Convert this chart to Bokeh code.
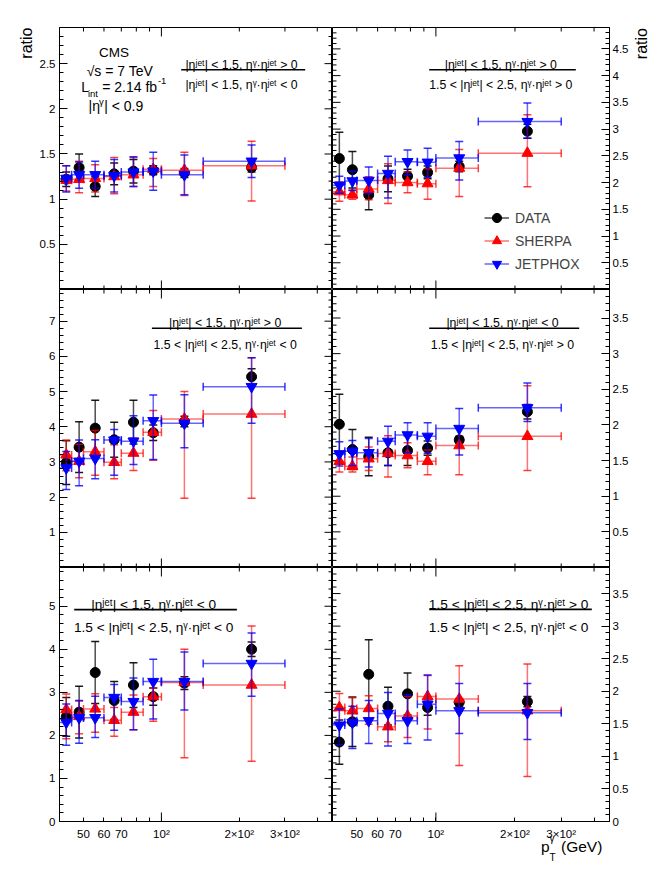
import math
from bokeh.plotting import figure
from bokeh.models import (Range1d, LinearAxis, LogAxis, FixedTicker, SingleIntervalTicker,
                          NumeralTickFormatter, Label, Legend, LegendItem, ColumnDataSource,
                          Title, Div)
from bokeh.layouts import row, column
from bokeh.embed import file_html
from bokeh.resources import INLINE

FONT = "Liberation Sans"

# ---------------- data ----------------
bin_lo = [40, 45, 50, 60, 70, 85, 100, 145]
bin_hi = [45, 50, 60, 70, 85, 100, 145, 300]
pt = [42.9, 48.1, 55.5, 65.7, 78.0, 93.0, 122.7, 223.0]

x_tick_values = [50, 60, 70, 100, 200, 300]
x_tick_labels = ["50", "60", "70", "10²", "2×10²", "3×10²"]
x_minor_values = [40, 80, 90, 400]
x_decade_values = [100]

tl_data = [1.22, 1.35, 1.14, 1.28, 1.31, 1.32, 1.29, 1.35]
tl_data_err = [0.08, 0.15, 0.11, 0.12, 0.13, 0.05, 0.05, 0.05]
tl_sherpa = [1.21, 1.22, 1.23, 1.25, 1.27, 1.33, 1.32, 1.37]
tl_sherpa_up = [0.16, 0.20, 0.15, 0.21, 0.19, 0.12, 0.20, 0.27]
tl_sherpa_dn = [0.12, 0.15, 0.15, 0.19, 0.13, 0.19, 0.28, 0.39]
tl_jetphox = [1.23, 1.27, 1.27, 1.26, 1.30, 1.31, 1.27, 1.42]
tl_jetphox_up = [0.14, 0.14, 0.15, 0.18, 0.17, 0.21, 0.22, 0.18]
tl_jetphox_dn = [0.15, 0.15, 0.15, 0.18, 0.16, 0.21, 0.22, 0.18]

tr_data = [2.45, 2.24, 1.77, 2.07, 2.12, 2.19, 2.30, 2.96]
tr_data_err = [0.49, 0.34, 0.28, 0.24, 0.13, 0.12, 0.10, 0.13]
tr_sherpa = [1.83, 1.77, 1.88, 2.04, 2.00, 1.98, 2.27, 2.55]
tr_sherpa_up = [0.18, 0.09, 0.23, 0.31, 0.20, 0.28, 0.35, 0.72]
tr_sherpa_dn = [0.18, 0.08, 0.20, 0.43, 0.19, 0.29, 0.53, 0.63]
tr_jetphox = [1.95, 2.03, 2.04, 2.17, 2.39, 2.38, 2.46, 3.14]
tr_jetphox_up = [0.17, 0.18, 0.25, 0.32, 0.22, 0.26, 0.31, 0.35]
tr_jetphox_dn = [0.15, 0.18, 0.25, 0.46, 0.25, 0.28, 0.41, 0.31]

ml_data = [2.98, 3.42, 3.96, 3.63, 4.13, 3.83, 4.15, 5.42]
ml_data_err = [0.62, 0.72, 0.79, 0.50, 0.62, 0.22, 0.15, 0.23]
ml_sherpa = [3.20, 3.02, 3.29, 2.99, 3.25, 3.84, 4.22, 4.36]
ml_sherpa_up = [0.42, 0.48, 0.60, 0.50, 0.43, 0.62, 0.78, 1.60]
ml_sherpa_dn = [0.45, 0.47, 0.67, 0.47, 0.49, 0.79, 2.25, 2.39]
ml_jetphox = [2.83, 3.02, 3.10, 3.62, 3.59, 4.17, 4.10, 5.14]
ml_jetphox_up = [0.47, 0.60, 0.53, 0.30, 0.72, 0.73, 0.81, 0.82]
ml_jetphox_dn = [0.61, 0.70, 0.58, 1.00, 0.66, 1.10, 0.70, 1.04]

mr_data = [2.01, 1.655, 1.557, 1.61, 1.64, 1.675, 1.79, 2.185]
mr_data_err = [0.42, 0.28, 0.27, 0.18, 0.21, 0.10, 0.05, 0.10]
mr_sherpa = [1.49, 1.42, 1.525, 1.60, 1.57, 1.49, 1.71, 1.84]
mr_sherpa_up = [0.13, 0.13, 0.165, 0.25, 0.18, 0.16, 0.26, 0.71]
mr_sherpa_dn = [0.15, 0.08, 0.165, 0.33, 0.17, 0.19, 0.41, 0.48]
mr_jetphox = [1.595, 1.63, 1.61, 1.77, 1.86, 1.84, 1.95, 2.24]
mr_jetphox_up = [0.17, 0.15, 0.20, 0.21, 0.17, 0.19, 0.28, 0.35]
mr_jetphox_dn = [0.17, 0.20, 0.20, 0.34, 0.25, 0.24, 0.37, 0.19]

bl_data = [2.43, 2.54, 3.46, 2.81, 3.17, 2.90, 3.215, 4.00]
bl_data_err = [0.45, 0.60, 0.72, 0.44, 0.52, 0.20, 0.15, 0.17]
bl_sherpa = [2.60, 2.44, 2.615, 2.35, 2.54, 2.90, 3.23, 3.17]
bl_sherpa_up = [0.36, 0.36, 0.35, 0.30, 0.40, 0.20, 0.77, 1.37]
bl_sherpa_dn = [0.68, 0.40, 0.54, 0.37, 0.41, 0.57, 1.75, 1.77]
bl_jetphox = [2.30, 2.41, 2.41, 2.88, 2.785, 3.25, 3.25, 3.67]
bl_jetphox_up = [0.43, 0.40, 0.50, 0.30, 0.55, 0.52, 0.69, 0.71]
bl_jetphox_dn = [0.53, 0.59, 0.46, 0.76, 0.655, 0.87, 0.66, 0.76]

br_data = [1.22, 1.53, 2.26, 1.77, 1.96, 1.75, 1.83, 1.84]
br_data_err = [0.34, 0.38, 0.53, 0.29, 0.32, 0.12, 0.06, 0.08]
br_sherpa = [1.75, 1.70, 1.735, 1.455, 1.62, 1.92, 1.88, 1.70]
br_sherpa_up = [0.215, 0.20, 0.195, 0.25, 0.30, 0.32, 0.51, 0.72]
br_sherpa_dn = [0.25, 0.20, 0.24, 0.23, 0.33, 0.50, 1.02, 1.01]
br_jetphox = [1.48, 1.52, 1.547, 1.66, 1.547, 1.80, 1.70, 1.67]
br_jetphox_up = [0.25, 0.25, 0.31, 0.32, 0.40, 0.45, 0.42, 0.45]
br_jetphox_dn = [0.30, 0.40, 0.35, 0.50, 0.35, 0.55, 0.35, 0.41]

NUM_A = "|ηʲᵉᵗ| < 1.5,  ηᵞ·ηʲᵉᵗ > 0"
NUM_B = "|ηʲᵉᵗ| < 1.5,  ηᵞ·ηʲᵉᵗ < 0"
DEN_A = "1.5 < |ηʲᵉᵗ| < 2.5,  ηᵞ·ηʲᵉᵗ > 0"
DEN_B = "1.5 < |ηʲᵉᵗ| < 2.5,  ηᵞ·ηʲᵉᵗ < 0"

# ---------------- geometry ----------------
X0, X1 = 40.4, 458.0
FW = [273, 277]
FH = {"top": 262, "mid": 278, "bot": 255}
BORDER_L, BORDER_R, BORDER_T, BORDER_B = 59, 55, 27, 20
FRAME = {}


def style_axis(ax, major_in, minor_in, standoff):
    ax.major_tick_in = major_in
    ax.major_tick_out = 0
    ax.minor_tick_in = minor_in
    ax.minor_tick_out = 0
    ax.axis_line_color = "black"
    ax.axis_line_width = 1
    ax.major_tick_line_color = "black"
    ax.minor_tick_line_color = "black"
    ax.major_label_text_font = FONT
    ax.major_label_text_font_size = "11.5px"
    ax.major_label_text_color = "black"
    ax.major_label_standoff = standoff


def y_ticks(y_end, interval):
    n = int(round(y_end / interval * 5))
    major = [round(k * interval / 5, 6) for k in range(n + 1) if k % 5 == 0]
    minor = [round(k * interval / 5, 6) for k in range(n + 1) if k % 5 != 0]
    return major, minor


def tick_marks(p, xs, ys, size, angle=0.0):
    p.scatter(x=xs, y=ys, marker="dash", size=size, angle=angle,
              line_color="black", line_width=1)


def make_fig(col, rowname, y_end, interval, right_border=BORDER_R):
    fw = FW[col]
    fh = FH[rowname]
    bl = BORDER_L if col == 0 else 0
    br = 0 if col == 0 else right_border
    bt = BORDER_T if rowname == "top" else 0
    bb = BORDER_B if rowname == "bot" else 0
    y_start = 0.0 if rowname == "bot" else 1e-4
    p = figure(width=fw + bl + br, height=fh + bt + bb, x_axis_type="log", title=None,
               x_axis_location=None, y_axis_location=None,
               x_range=Range1d(X0, X1), y_range=Range1d(y_start, y_end),
               output_backend="svg", toolbar_location=None,
               min_border_left=bl, min_border_right=br,
               min_border_top=bt, min_border_bottom=bb)
    p.xgrid.grid_line_color = None
    p.ygrid.grid_line_color = None
    p.outline_line_color = "black"
    p.outline_line_width = 1
    p.background_fill_color = "white"
    p.border_fill_color = "white"

    # x ticks (short ones everywhere, longer one at the decade)
    short_x = [v for v in x_tick_values + x_minor_values if v not in x_decade_values]
    tick_marks(p, short_x, [y_end] * len(short_x), 8, math.pi / 2)
    tick_marks(p, x_decade_values, [y_end] * len(x_decade_values), 18, math.pi / 2)
    tick_marks(p, x_decade_values, [y_start] * len(x_decade_values), 18, math.pi / 2)
    if rowname == "bot":
        ax = LogAxis(ticker=FixedTicker(ticks=x_tick_values, minor_ticks=x_minor_values))
        ax.major_label_overrides = {v: s for v, s in zip(x_tick_values, x_tick_labels)}
        style_axis(ax, 4, 4, 6)
        p.add_layout(ax, "below")
    else:
        tick_marks(p, short_x, [y_start] * len(short_x), 8, math.pi / 2)

    # y ticks: labelled on the outer side, mirrored on the inner side
    major, minor = y_ticks(y_end, interval)
    yax = LinearAxis(ticker=SingleIntervalTicker(interval=interval, num_minor_ticks=5),
                     formatter=NumeralTickFormatter(format="0.[0]"))
    if col == 0:
        style_axis(yax, 8, 4, 4)
        p.add_layout(yax, "left")
        mx = X1
    else:
        style_axis(yax, 8, 4, 3)
        p.add_layout(yax, "right")
        mx = X0
    tick_marks(p, [mx] * len(major), major, 16)
    tick_marks(p, [mx] * len(minor), minor, 8)
    FRAME[p.id] = (fw, fh)
    return p


def add_text(p, dx, dy, text, size, align="left"):
    p.add_layout(Label(x=X0, y=p.y_range.end, x_offset=dx, y_offset=-dy, text=text,
                       text_font=FONT, text_font_size=f"{size}px", text_color="black",
                       text_align=align, text_baseline="alphabetic"))


def frac(p, dx0, dx1, dy, num, den, size, den_gap):
    fw, fh = FRAME[p.id]
    lx0, lx1 = math.log10(X0), math.log10(X1)
    xa = 10 ** (lx0 + dx0 / fw * (lx1 - lx0))
    xb = 10 ** (lx0 + dx1 / fw * (lx1 - lx0))
    y = p.y_range.end - dy / fh * (p.y_range.end - p.y_range.start)
    p.segment(x0=[xa], y0=[y], x1=[xb], y1=[y], line_color="black", line_width=1.6)
    cx = 0.5 * (dx0 + dx1)
    add_text(p, cx, dy - 5, num, size, align="center")
    add_text(p, cx, dy + den_gap, den, size, align="center")


def series(p, y, dn, up, color, marker, size, bar_alpha, hbar):
    src = ColumnDataSource(dict(
        x=pt, y=y, lo=[a - b for a, b in zip(y, dn)], hi=[a + b for a, b in zip(y, up)],
        xl=bin_lo, xh=bin_hi))
    vbar = p.segment(x0="x", y0="lo", x1="x", y1="hi", source=src,
                     line_color=color, line_alpha=bar_alpha, line_width=1.5)
    cap = dict(source=src, marker="dash", size=8, line_color=color,
               line_alpha=min(1.0, bar_alpha + 0.2), line_width=1.5)
    p.scatter(x="x", y="lo", **cap)
    p.scatter(x="x", y="hi", **cap)
    if hbar:
        p.segment(x0="xl", y0="y", x1="xh", y1="y", source=src,
                  line_color=color, line_alpha=bar_alpha, line_width=1.5)
        p.scatter(x="xl", y="y", angle=math.pi / 2, **cap)
        p.scatter(x="xh", y="y", angle=math.pi / 2, **cap)
    mk = p.scatter(x="x", y="y", source=src, marker=marker, size=size,
                   fill_color=color, line_color=color)
    return vbar, mk


def draw(p, d, de, s, su, sd, j, ju, jd):
    r1 = series(p, d, de, de, "black", "circle", 10, 0.7, False)
    r2 = series(p, s, sd, su, "red", "triangle", 11, 0.55, True)
    r3 = series(p, j, jd, ju, "blue", "inverted_triangle", 11, 0.6, True)
    return r1, r2, r3


FS_TOP, FS_BOT = 12.3, 13.7

# ---------------- panels ----------------
p_tl = make_fig(0, "top", 2.9, 0.5)
draw(p_tl, tl_data, tl_data_err, tl_sherpa, tl_sherpa_up, tl_sherpa_dn,
     tl_jetphox, tl_jetphox_up, tl_jetphox_dn)
frac(p_tl, 121.7, 245.7, 42.3, NUM_A, NUM_B, FS_TOP, 15.5)
p_tl.add_layout(Title(text="ratio", align="right", text_font=FONT, text_font_size="16px",
                      text_font_style="normal", text_color="black", standoff=4), "left")
add_text(p_tl, 54.5, 25.3, "CMS", 13.5, align="center")
add_text(p_tl, 60.4, 43, "√s = 7 TeV", 14, align="center")
add_text(p_tl, 21.7, 59.7, "L", 14)
add_text(p_tl, 28.4, 65.5, "int", 9.5)
add_text(p_tl, 42.7, 59.7, "= 2.14 fb", 14)
add_text(p_tl, 98.4, 53.5, "-1", 9.5)
add_text(p_tl, 29.0, 78.3, "|η", 14)
add_text(p_tl, 39.4, 74.0, "γ", 9.5)
add_text(p_tl, 44.7, 78.3, "| < 0.9", 14)

RATIO_W = 31
p_tr = make_fig(1, "top", 4.9, 0.5, right_border=BORDER_R - RATIO_W)
rr = draw(p_tr, tr_data, tr_data_err, tr_sherpa, tr_sherpa_up, tr_sherpa_dn,
          tr_jetphox, tr_jetphox_up, tr_jetphox_dn)
frac(p_tr, 96.7, 243.3, 42.3, NUM_A, DEN_A, FS_TOP, 15.5)
legend = Legend(items=[LegendItem(label="DATA", renderers=list(rr[0])),
                       LegendItem(label="SHERPA", renderers=list(rr[1])),
                       LegendItem(label="JETPHOX", renderers=list(rr[2]))],
                location=(152, 14), padding=0, margin=0, spacing=0,
                glyph_width=25, glyph_height=23, label_standoff=6, label_height=23,
                label_text_font=FONT, label_text_font_size="14px",
                border_line_color=None, background_fill_alpha=0)
p_tr.add_layout(legend)

ratio_right = Div(
    text=(
        f"<div style=\"position:relative;width:{RATIO_W}px;height:289px;\">"
        "<span style=\"position:absolute;left:0px;top:28px;font-family:'Liberation Sans',sans-serif;"
        "font-size:16px;line-height:18px;writing-mode:vertical-rl;transform:rotate(180deg);"
        "color:black;\">ratio</span></div>"
    ),
    width=RATIO_W, height=289, styles={"margin": "0", "padding": "0"})

p_ml = make_fig(0, "mid", 7.9, 1.0)
draw(p_ml, ml_data, ml_data_err, ml_sherpa, ml_sherpa_up, ml_sherpa_dn,
     ml_jetphox, ml_jetphox_up, ml_jetphox_dn)
frac(p_ml, 92.4, 242.4, 38.7, NUM_A, DEN_B, FS_TOP, 16.5)

p_mr = make_fig(1, "mid", 3.9, 0.5)
draw(p_mr, mr_data, mr_data_err, mr_sherpa, mr_sherpa_up, mr_sherpa_dn,
     mr_jetphox, mr_jetphox_up, mr_jetphox_dn)
frac(p_mr, 96.7, 246.7, 38.7, NUM_B, DEN_A, FS_TOP, 16.5)

p_bl = make_fig(0, "bot", 5.9, 1.0)
draw(p_bl, bl_data, bl_data_err, bl_sherpa, bl_sherpa_up, bl_sherpa_dn,
     bl_jetphox, bl_jetphox_up, bl_jetphox_dn)
frac(p_bl, 14.7, 177.4, 42.3, NUM_B, DEN_B, FS_BOT, 17.5)

p_br = make_fig(1, "bot", 3.9, 0.5)
draw(p_br, br_data, br_data_err, br_sherpa, br_sherpa_up, br_sherpa_dn,
     br_jetphox, br_jetphox_up, br_jetphox_dn)
frac(p_br, 96.7, 259.3, 42.0, DEN_A, DEN_B, FS_BOT, 17.5)

xtitle = Div(
    text=(
        "<div style=\"position:relative;width:664px;height:27px;"
        "font-family:'Liberation Sans',sans-serif;color:black;\">"
        "<span style=\"position:absolute;left:541px;top:-3px;font-size:15.5px;line-height:16px;\">p</span>"
        "<span style=\"position:absolute;left:549.5px;top:-8px;font-size:10px;line-height:10px;\">γ</span>"
        "<span style=\"position:absolute;left:549.5px;top:11px;font-size:10px;line-height:10px;\">T</span>"
        "<span style=\"position:absolute;left:561px;top:-3px;font-size:15.5px;line-height:16px;\">(GeV)</span>"
        "</div>"
    ),
    width=664, height=27, styles={"overflow": "visible", "margin": "0", "padding": "0"})

layout = column(row(p_tl, p_tr, ratio_right), row(p_ml, p_mr), row(p_bl, p_br), xtitle)

with open("out.html", "w") as f:
    f.write(file_html(layout, INLINE))
